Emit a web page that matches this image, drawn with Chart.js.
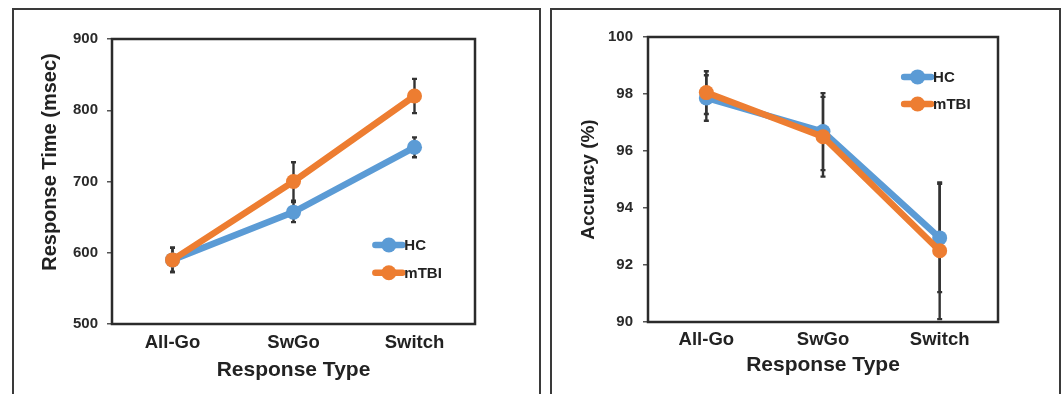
<!DOCTYPE html>
<html><head><meta charset="utf-8">
<script src="https://cdn.jsdelivr.net/npm/chart.js@4.4.0/dist/chart.umd.min.js"></script>
<style>
html,body{margin:0;padding:0;background:#fff;width:1062px;height:394px;overflow:hidden;position:relative;font-family:'Liberation Sans',Arial,sans-serif}
.panel{position:absolute;top:8px;height:400px;border:2px solid #3a3a3a;box-sizing:border-box}
canvas{position:absolute;top:0}
</style></head><body>
<div class="panel" style="left:12px;width:529px"></div>
<div class="panel" style="left:550px;width:511px"></div>
<canvas id="c1" width="545" height="394" style="left:0"></canvas>
<canvas id="c2" width="517" height="394" style="left:545px"></canvas>
<script>
const categories = ['All-Go', 'SwGo', 'Switch'];
const seriesNames = ['HC', 'mTBI'];
// Response time (msec)
const rtHC = [590, 657, 748];
const rtHCErr = [17, 14, 14];
const rtTBI = [590, 700, 820];
const rtTBIErr = [17, 27, 24];
// Accuracy (%)
const accHC = [97.86, 96.68, 92.95];
const accHCErr = [0.8, 1.35, 1.9];
const accTBI = [98.05, 96.5, 92.5];
const accTBIErr = [0.75, 1.4, 2.4];
const rtTicks = [500, 600, 700, 800, 900];
const accTicks = [90, 92, 94, 96, 98, 100];

const BLUE = '#5B9BD5', ORANGE = '#ED7D31', INK = '#222';
const FONT = "'Liberation Sans', Arial, sans-serif";

const errorBars = {
  id: 'errorBars',
  beforeDatasetsDraw(chart) {
    const ctx = chart.ctx, y = chart.scales.y;
    chart.data.datasets.forEach((ds, i) => {
      const meta = chart.getDatasetMeta(i);
      if (!ds.errors) return;
      ctx.save();
      ctx.strokeStyle = '#333';
      ctx.lineWidth = 2.4;
      meta.data.forEach((pt, j) => {
        const v = ds.data[j], e = ds.errors[j];
        const yt = y.getPixelForValue(v + e), yb = y.getPixelForValue(v - e);
        ctx.beginPath();
        ctx.moveTo(pt.x, yt); ctx.lineTo(pt.x, yb);
        ctx.moveTo(pt.x - 2.5, yt); ctx.lineTo(pt.x + 2.5, yt);
        ctx.moveTo(pt.x - 2.5, yb); ctx.lineTo(pt.x + 2.5, yb);
        ctx.stroke();
      });
      ctx.restore();
    });
  }
};

const plotBox = {
  id: 'plotBox',
  afterDraw(chart) {
    const {ctx, chartArea: a} = chart;
    ctx.save();
    ctx.strokeStyle = '#2b2b2b';
    ctx.lineWidth = 2.5;
    ctx.strokeRect(a.left, a.top, a.right - a.left, a.bottom - a.top);
    ctx.restore();
  }
};

const boxLegend = {
  id: 'boxLegend',
  afterDraw(chart, args, opts) {
    const {ctx, chartArea: a} = chart;
    const x0 = a.left + opts.x * (a.right - a.left);
    chart.data.datasets.forEach((ds, i) => {
      const yy = a.top + opts.y[i] * (a.bottom - a.top);
      ctx.save();
      ctx.strokeStyle = ds.borderColor; ctx.fillStyle = ds.borderColor;
      ctx.lineWidth = 6.5; ctx.lineCap = 'round';
      ctx.beginPath(); ctx.moveTo(x0 + 2, yy); ctx.lineTo(x0 + 29, yy); ctx.stroke();
      ctx.beginPath(); ctx.arc(x0 + 15.5, yy, 7.5, 0, Math.PI * 2); ctx.fill();
      ctx.fillStyle = INK;
      ctx.font = 'bold 15px ' + FONT;
      ctx.textBaseline = 'middle';
      ctx.fillText(ds.label, x0 + 31, yy + 1);
      ctx.restore();
    });
  }
};

function makeChart(id, cfg) {
  const ds = (label, data, err, color, order) => ({
    label, data, errors: err, borderColor: color, backgroundColor: color,
    borderWidth: 6.5, pointRadius: 7.5, pointHoverRadius: 7.5, pointBorderWidth: 0,
    tension: 0, order
  });
  return new Chart(document.getElementById(id), {
    type: 'line',
    data: {
      labels: categories,
      datasets: [
        ds(seriesNames[0], cfg.hc, cfg.hcErr, BLUE, 1),
        ds(seriesNames[1], cfg.tbi, cfg.tbiErr, ORANGE, 0)
      ]
    },
    options: {
      responsive: false, animation: false, devicePixelRatio: 1,
      layout: {padding: {left: cfg.padLeft, top: cfg.padTop, right: cfg.padRight, bottom: 0}},
      plugins: {legend: {display: false}, tooltip: {enabled: false},
        boxLegend: {x: cfg.legX, y: cfg.legY}},
      scales: {
        x: {
          offset: true,
          grid: {display: false, drawTicks: false},
          border: {display: false},
          ticks: {color: INK, font: {family: FONT, size: 18.5, weight: 'bold'}, padding: cfg.xTickPad},
          title: {display: true, text: 'Response Type', color: INK,
            font: {family: FONT, size: 21, weight: 'bold'}, padding: {top: 0, bottom: cfg.xTitlePad}},
          afterFit(s) { s.height = cfg.xHeight; }
        },
        y: {
          min: cfg.ticks[0], max: cfg.ticks[cfg.ticks.length - 1],
          afterBuildTicks(s) { s.ticks = cfg.ticks.map(v => ({value: v})); },
          grid: {drawOnChartArea: false, drawTicks: true, tickLength: 5, tickColor: '#555', lineWidth: 1.5},
          border: {display: false},
          ticks: {color: '#2a2a2a', font: {family: FONT, size: 15, weight: 'bold'}, padding: cfg.yTickPad},
          title: {display: true, text: cfg.yTitle, color: INK,
            font: {family: FONT, size: cfg.yTitleSize, weight: 'bold'}, padding: 0},
          afterFit(s) { s.width = cfg.yWidth; }
        }
      }
    },
    plugins: [errorBars, plotBox, boxLegend]
  });
}

makeChart('c1', {
  hc: rtHC, hcErr: rtHCErr, tbi: rtTBI, tbiErr: rtTBIErr, ticks: rtTicks,
  yTitle: '\u00A0\u00A0\u00A0\u00A0\u00A0\u00A0\u00A0Response Time (msec)', yTitleSize: 20,
  padLeft: 38, padTop: 39, padRight: 70, yWidth: 74, xHeight: 70,
  xTickPad: 8, xTitlePad: 11, yTickPad: 9, legX: 0.72, legY: [0.723, 0.82]
});
makeChart('c2', {
  hc: accHC, hcErr: accHCErr, tbi: accTBI, tbiErr: accTBIErr, ticks: accTicks,
  yTitle: 'Accuracy (%)', yTitleSize: 19,
  padLeft: 32, padTop: 37, padRight: 64, yWidth: 71, xHeight: 72,
  xTickPad: 7, xTitlePad: 16, yTickPad: 10, legX: 0.726, legY: [0.14, 0.235]
});
</script>
</body></html>
